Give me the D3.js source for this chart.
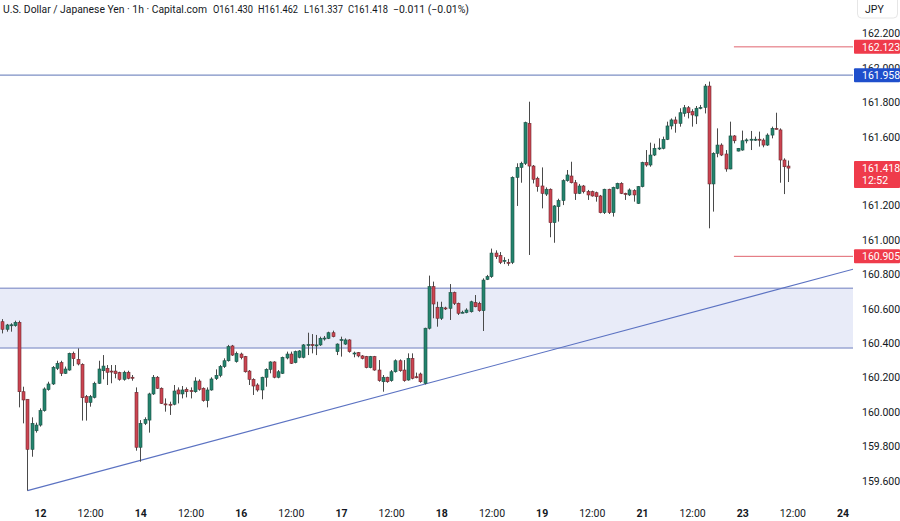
<!DOCTYPE html>
<html><head><meta charset="utf-8">
<script src="https://cdn.jsdelivr.net/npm/d3@7/dist/d3.min.js"></script>
<style>
html,body{margin:0;padding:0;background:#fff;}
svg{display:block;}
text{font-family:Roboto,"DejaVu Sans",sans-serif;}
</style></head>
<body>
<svg id="c" width="900" height="521"></svg>
<script>
const opens = [160.525,160.481,160.506,160.502,160.521,160.118,160.074,159.783,159.891,159.924,160.008,160.130,160.163,160.254,160.287,160.225,160.244,160.341,160.306,160.277,160.089,160.056,160.085,160.167,160.240,160.254,160.238,160.238,160.229,160.190,160.231,160.202,160.114,159.795,159.934,159.953,160.105,160.202,160.138,160.047,160.045,160.045,160.128,160.105,160.132,160.124,160.118,160.180,160.138,160.066,160.128,160.194,160.213,160.264,160.298,160.384,160.293,160.337,160.322,160.238,160.190,160.157,160.128,160.202,160.248,160.291,160.202,160.225,160.314,160.337,160.287,160.318,160.318,160.388,160.392,160.388,160.390,160.428,160.428,160.461,160.351,160.420,160.395,160.419,160.341,160.345,160.326,160.322,160.258,160.322,160.244,160.176,160.202,160.182,160.234,160.298,160.244,160.186,160.312,160.205,160.221,160.167,160.487,160.729,160.609,160.545,160.605,160.603,160.694,160.632,160.576,160.578,160.583,160.636,160.632,160.589,160.771,160.787,160.924,160.910,160.880,160.870,160.870,161.364,161.422,161.446,161.678,161.430,161.359,161.314,161.267,161.295,161.101,161.194,161.229,161.345,161.372,161.333,161.271,161.314,161.281,161.281,161.275,161.256,161.159,161.295,161.159,161.300,161.329,161.271,161.262,161.287,161.213,161.310,161.450,161.436,161.494,161.533,161.533,161.585,161.663,161.698,161.678,161.736,161.769,161.746,161.721,161.769,161.771,161.895,161.326,161.504,161.552,161.500,161.413,161.605,161.517,161.523,161.581,161.585,161.585,161.586,161.581,161.552,161.610,161.649,161.640,161.465,161.430];
const highs = [160.540,160.512,160.516,160.531,160.531,160.147,160.074,159.969,159.938,160.021,160.143,160.176,160.267,160.298,160.298,160.264,160.345,160.351,160.370,160.283,160.099,160.099,160.176,160.298,160.331,160.273,160.273,160.273,160.234,160.240,160.240,160.215,160.143,159.953,159.969,160.112,160.215,160.209,160.143,160.079,160.060,160.157,160.143,160.151,160.143,160.143,160.202,160.190,160.143,160.143,160.202,160.248,160.273,160.312,160.390,160.390,160.351,160.345,160.326,160.244,160.196,160.167,160.205,160.254,160.295,160.295,160.244,160.322,160.351,160.351,160.357,160.360,160.395,160.461,160.453,160.448,160.438,160.442,160.467,160.473,160.399,160.438,160.428,160.423,160.351,160.349,160.331,160.326,160.326,160.326,160.302,160.215,160.205,160.244,160.306,160.306,160.302,160.341,160.341,160.229,160.229,160.490,160.793,160.758,160.641,160.641,160.612,160.744,160.700,160.636,160.589,160.603,160.647,160.680,160.641,160.777,160.797,160.950,160.940,160.930,160.900,160.890,161.370,161.446,161.455,161.688,161.804,161.436,161.368,161.422,161.306,161.300,161.203,161.240,161.353,161.407,161.455,161.349,161.326,161.320,161.291,161.287,161.281,161.262,161.298,161.298,161.310,161.333,161.336,161.275,161.300,161.295,161.314,161.455,161.523,161.566,161.560,161.591,161.601,161.688,161.707,161.717,161.766,161.785,161.779,161.760,161.779,161.785,161.907,161.921,161.510,161.649,161.562,161.523,161.688,161.610,161.535,161.636,161.591,161.634,161.601,161.630,161.591,161.620,161.659,161.740,161.649,161.475,161.462];
const lows = [160.457,160.467,160.467,160.496,160.027,159.934,159.543,159.740,159.880,159.915,160.002,160.124,160.157,160.244,160.209,160.221,160.240,160.267,160.271,159.950,159.950,160.031,160.079,160.163,160.190,160.157,160.167,160.196,160.182,160.182,160.190,160.182,159.775,159.711,159.924,159.880,160.099,160.134,160.047,160.002,159.983,160.039,160.050,160.079,160.085,160.079,160.112,160.124,160.060,160.027,160.124,160.186,160.202,160.256,160.293,160.326,160.287,160.306,160.229,160.157,160.099,160.118,160.074,160.147,160.225,160.196,160.196,160.221,160.306,160.279,160.283,160.312,160.312,160.331,160.341,160.331,160.384,160.415,160.424,160.434,160.331,160.322,160.390,160.345,160.318,160.318,160.306,160.254,160.254,160.240,160.176,160.118,160.170,160.176,160.229,160.234,160.176,160.182,160.190,160.196,160.170,160.160,160.480,160.545,160.496,160.535,160.593,160.535,160.622,160.564,160.574,160.574,160.578,160.609,160.583,160.471,160.767,160.780,160.890,160.860,160.860,160.850,160.860,161.198,161.333,161.436,160.913,161.329,161.281,161.184,161.256,161.016,160.984,161.107,161.203,161.339,161.329,161.233,161.267,161.271,161.233,161.252,161.223,161.155,161.151,161.151,161.136,161.295,161.267,161.233,161.256,161.223,161.210,161.306,161.426,161.426,161.488,161.523,161.527,161.581,161.643,161.624,161.659,161.717,161.707,161.659,161.674,161.760,161.736,161.068,161.165,161.481,161.488,161.397,161.411,161.562,161.515,161.519,161.562,161.523,161.576,161.543,161.539,161.547,161.591,161.643,161.333,161.267,161.337];
const closes = [160.481,160.506,160.507,160.521,160.118,160.070,159.783,159.934,159.924,160.008,160.134,160.163,160.260,160.283,160.225,160.250,160.341,160.310,160.279,160.083,160.056,160.089,160.167,160.250,160.267,160.231,160.237,160.223,160.190,160.231,160.196,160.201,159.795,159.934,159.957,160.105,160.202,160.138,160.050,160.046,160.044,160.122,160.105,160.128,160.118,160.123,160.180,160.132,160.066,160.128,160.192,160.213,160.264,160.298,160.380,160.331,160.341,160.316,160.234,160.190,160.151,160.128,160.202,160.248,160.291,160.202,160.234,160.318,160.337,160.283,160.351,160.355,160.390,160.392,160.388,160.390,160.428,160.430,160.461,160.438,160.395,160.421,160.419,160.351,160.343,160.326,160.312,160.258,160.322,160.244,160.182,160.202,160.176,160.234,160.298,160.240,160.182,160.312,160.196,160.200,160.176,160.487,160.729,160.628,160.545,160.609,160.603,160.694,160.632,160.574,160.580,160.593,160.641,160.612,160.589,160.767,160.787,160.924,160.903,160.870,160.882,160.868,161.364,161.422,161.446,161.682,161.430,161.353,161.310,161.271,161.295,161.101,161.198,161.229,161.345,161.378,161.333,161.271,161.314,161.281,161.262,161.256,161.252,161.159,161.295,161.159,161.306,161.329,161.271,161.265,161.291,161.262,161.310,161.450,161.436,161.494,161.533,161.535,161.585,161.663,161.698,161.678,161.740,161.769,161.740,161.727,161.766,161.771,161.895,161.326,161.504,161.552,161.494,161.413,161.605,161.577,161.533,161.577,161.582,161.586,161.586,161.584,161.552,161.610,161.649,161.647,161.465,161.426,161.418];

// 161.400 is hidden behind the last-price label in the reference, so it is not listed
const priceTicks = [162.2,162.0,161.8,161.6,161.2,161.0,160.8,160.6,160.4,160.2,160.0,159.8,159.6];
const timeTickIdx = [9,21,33,45,57,69,81,93,105,117,129,141,153,165,177,189,201];
const timeTickLabels = ["12","12:00","14","12:00","16","12:00","17","12:00","18","12:00","19","12:00","21","12:00","23","12:00","24"];

const zoneTop = 160.720, zoneBottom = 160.372;
const resistance = 161.958;
const redLevels = [162.123, 160.905];
const redLevelStart = 175;
const trendStart = [6, 159.543], trendEnd = [203.5, 160.830];
const lastPrice = 161.418, countdown = "12:52";
const title = "U.S. Dollar / Japanese Yen · 1h · Capital.com";
const ohlcText = ["O161.430","H161.462","L161.337","C161.418","−0.011 (−0.01%)"];

const W = 900, H = 521, plotR = 853, plotB = 500;
const svg = d3.select("#c");
svg.append("rect").attr("width",W).attr("height",H).attr("fill","#fff");

const x = d3.scaleLinear().domain([0,201]).range([2.4,842.6]);
const y = d3.scaleLinear().domain([159.6,162.2]).range([480.8,33.6]);

svg.append("clipPath").attr("id","clip").append("rect").attr("x",0).attr("y",0).attr("width",plotR).attr("height",plotB);
const g = svg.append("g").attr("clip-path","url(#clip)");

// zone
g.append("rect").attr("x",0).attr("width",plotR).attr("y",y(zoneTop)).attr("height",y(zoneBottom)-y(zoneTop)).attr("fill","#e8ebf8");
[zoneTop,zoneBottom].forEach(p=>g.append("line").attr("x1",0).attr("x2",plotR).attr("y1",y(p)).attr("y2",y(p)).attr("stroke","#6f7fbf").attr("stroke-width",1));

// resistance
g.append("line").attr("x1",0).attr("x2",plotR).attr("y1",y(resistance)).attr("y2",y(resistance)).attr("stroke","#7d8fc4").attr("stroke-width",1.3);
// red levels
redLevels.forEach(p=>g.append("line").attr("x1",x(redLevelStart)).attr("x2",plotR).attr("y1",y(p)).attr("y2",y(p)).attr("stroke","#e0646e").attr("stroke-width",1));
// trendline
g.append("line").attr("x1",x(trendStart[0])).attr("y1",y(trendStart[1])).attr("x2",x(trendEnd[0])).attr("y2",y(trendEnd[1])).attr("stroke","#5b72c2").attr("stroke-width",1.1);

// candles
const data = opens.map((o,i)=>({i,o,h:highs[i],l:lows[i],c:closes[i]}));
const cg = g.append("g");
cg.selectAll("line.w").data(data).join("line").attr("class","w")
  .attr("x1",d=>Math.round(x(d.i))+0.5).attr("x2",d=>Math.round(x(d.i))+0.5)
  .attr("y1",d=>y(d.h)).attr("y2",d=>y(d.l)).attr("stroke","#4a4a4a").attr("stroke-width",1);
cg.selectAll("rect.b").data(data).join("rect").attr("class","b")
  .attr("x",d=>Math.round(x(d.i))-1)
  .attr("width",3)
  .attr("y",d=>y(Math.max(d.o,d.c)))
  .attr("height",d=>Math.max(1,Math.abs(y(d.o)-y(d.c))))
  .attr("fill",d=>d.c>=d.o?"#23846d":"#cc4451")
  .attr("stroke",d=>d.c>=d.o?"#1b4f44":"#6b2a30")
  .attr("stroke-width",0.6);

// right axis
const ya = d3.axisRight(y).tickValues(priceTicks).tickSize(0).tickPadding(9).tickFormat(d3.format(".3f"));
const yg = svg.append("g").attr("transform",`translate(${plotR},0)`).call(ya);
yg.select(".domain").remove();
yg.selectAll("text").attr("font-size","10.5px").attr("fill","#131722").attr("font-family","Roboto,sans-serif");

// x axis
const xa = d3.axisBottom(x).tickValues(timeTickIdx).tickSize(0).tickPadding(0).tickFormat((d,k)=>timeTickLabels[k]);
const xg = svg.append("g").attr("transform",`translate(0,${plotB+10})`).call(xa);
xg.select(".domain").remove();
xg.selectAll("text").attr("font-size","10.5px").attr("fill","#131722").attr("font-family","Roboto,sans-serif")
  .attr("font-weight",(d,k)=>timeTickLabels[k].includes(":")?"normal":"bold");

// price label boxes
function priceBox(p, fill, lines){
  const yy = y(p);
  const h = lines.length>1 ? 27 : 14;
  const gg = svg.append("g");
  gg.append("rect").attr("x",plotR+1).attr("y",yy-7).attr("width",W-plotR-1).attr("height",h).attr("fill",fill).attr("rx",1);
  lines.forEach((t,k)=>gg.append("text").attr("x",plotR+9).attr("y",yy+k*12.5).attr("dy","0.35em")
    .attr("font-size","10.5px").attr("fill","#fff").text(t));
}
priceBox(redLevels[0],"#ef3b4b",[d3.format(".3f")(redLevels[0])]);
priceBox(resistance,"#1f4fcc",[d3.format(".3f")(resistance)]);
priceBox(lastPrice,"#ef3b4b",[d3.format(".3f")(lastPrice),countdown]);
priceBox(redLevels[1],"#ef3b4b",[d3.format(".3f")(redLevels[1])]);

// JPY box
svg.append("rect").attr("x",857.5).attr("y",-4).attr("width",40).attr("height",22).attr("rx",4).attr("fill","#fff").attr("stroke","#e6e6e6");
svg.append("text").attr("x",865).attr("y",9).attr("dy","0.35em").attr("font-size","10.5px").attr("fill","#131722").text("JPY");

// header: one text element, tspans placed where the reference shows them
const headerX = [213,258,304,348,393];
const headerW = [40,40,39,40,76];
const header = svg.append("text").attr("y",9).attr("dy","0.35em").attr("font-size","10.5px").attr("fill","#131722");
header.append("tspan").attr("x",3).attr("textLength",204).attr("lengthAdjust","spacingAndGlyphs").text(title);
ohlcText.forEach((t,k)=>header.append("tspan").attr("x",headerX[k])
  .attr("textLength",headerW[k]).attr("lengthAdjust","spacingAndGlyphs").text(t));
</script>
</body></html>
